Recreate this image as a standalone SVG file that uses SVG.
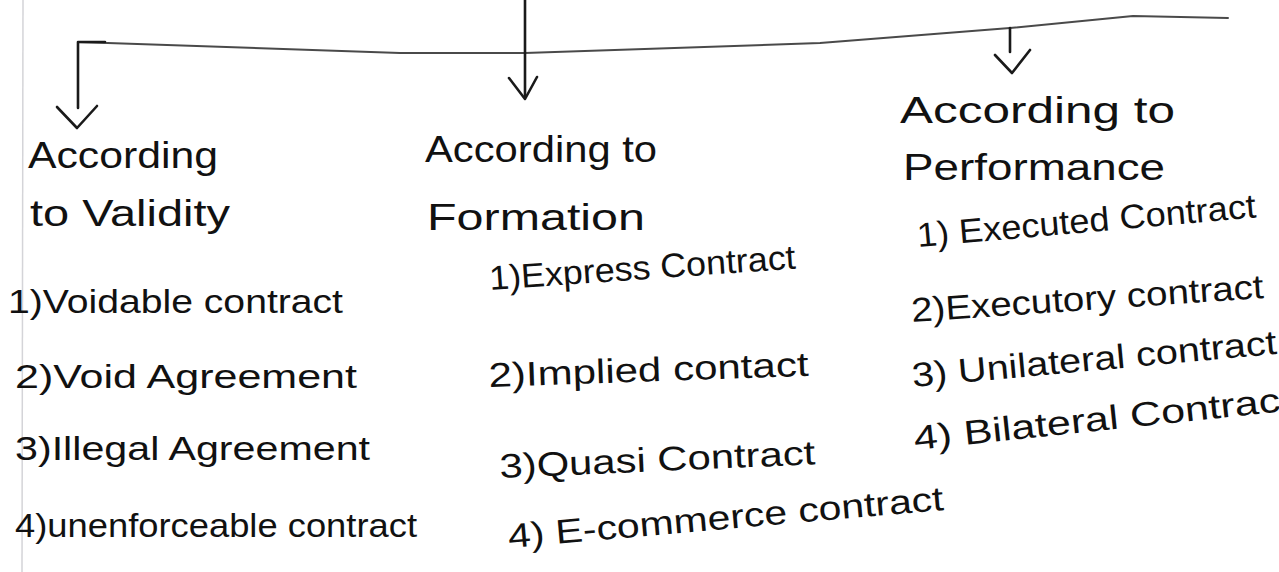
<svg xmlns="http://www.w3.org/2000/svg" width="1279" height="572" viewBox="0 0 1279 572">
  <style>
    .t { font-family: "Liberation Sans", Arial, sans-serif; font-size: 34px; fill: #111; }
    .h { font-family: "Liberation Sans", Arial, sans-serif; font-size: 36px; fill: #111; }
    .ln { fill: none; stroke: #1a1a1a; stroke-width: 2.6; stroke-linecap: round; stroke-linejoin: round; }
    .bar { fill: none; stroke: #4a4a4a; stroke-width: 2; stroke-linecap: round; stroke-linejoin: round; }
  </style>
  <rect width="1279" height="572" fill="#ffffff"/>
  <line x1="23" y1="0" x2="22" y2="572" stroke="#d4d4d8" stroke-width="1.5"/>

  <g id="connectors">
    <path class="bar" d="M78,42 L400,53 L525,53 L820,43 L1010,28 L1133,16 L1228,18"/>
    <path class="ln" d="M105,42 L78,42 L78,108"/>
    <path class="ln" d="M57,107 L77,128 L97,106"/>
    <path class="ln" d="M525,0 L525,97"/>
    <path class="ln" d="M509,78 L525,99 L537,77"/>
    <path class="ln" d="M1010,28 L1010,52"/>
    <path class="ln" d="M995,55 L1012,73 L1030,50"/>
  </g>

  <g id="validity">
    <text class="h" x="28" y="168" textLength="190" lengthAdjust="spacingAndGlyphs">According</text>
    <text class="h" x="30" y="226" textLength="200" lengthAdjust="spacingAndGlyphs">to Validity</text>
    <text class="t" x="8" y="313" textLength="335" lengthAdjust="spacingAndGlyphs">1)Voidable contract</text>
    <text class="t" x="15" y="388" textLength="342" lengthAdjust="spacingAndGlyphs">2)Void Agreement</text>
    <text class="t" x="15" y="460" textLength="355" lengthAdjust="spacingAndGlyphs">3)Illegal Agreement</text>
    <text class="t" x="15" y="537" textLength="402" lengthAdjust="spacingAndGlyphs">4)unenforceable contract</text>
  </g>

  <g id="formation">
    <text class="h" x="425" y="162" textLength="232" lengthAdjust="spacingAndGlyphs">According to</text>
    <text class="h" x="427" y="230" textLength="218" lengthAdjust="spacingAndGlyphs">Formation</text>
    <text class="t" x="490" y="290" transform="rotate(-4 490 290)" textLength="307" lengthAdjust="spacingAndGlyphs">1)Express Contract</text>
    <text class="t" x="489" y="387" transform="rotate(-2 489 387)" textLength="320" lengthAdjust="spacingAndGlyphs">2)Implied contact</text>
    <text class="t" x="500" y="478" transform="rotate(-2.5 500 478)" textLength="316" lengthAdjust="spacingAndGlyphs">3)Quasi Contract</text>
    <text class="t" x="509" y="548" transform="rotate(-5 509 548)" textLength="437" lengthAdjust="spacingAndGlyphs">4) E-commerce contract</text>
  </g>

  <g id="performance">
    <text class="h" x="900" y="123" textLength="275" lengthAdjust="spacingAndGlyphs">According to</text>
    <text class="h" x="903" y="180" textLength="262" lengthAdjust="spacingAndGlyphs">Performance</text>
    <text class="t" x="918" y="247" transform="rotate(-5 918 247)" textLength="340" lengthAdjust="spacingAndGlyphs">1) Executed Contract</text>
    <text class="t" x="912" y="322" transform="rotate(-3.9 912 322)" textLength="353" lengthAdjust="spacingAndGlyphs">2)Executory contract</text>
    <text class="t" x="913" y="387" transform="rotate(-5.2 913 387)" textLength="366" lengthAdjust="spacingAndGlyphs">3) Unilateral contract</text>
    <text class="t" x="915" y="450" transform="rotate(-6 915 450)" textLength="380" lengthAdjust="spacingAndGlyphs">4) Bilateral Contract</text>
  </g>
</svg>
